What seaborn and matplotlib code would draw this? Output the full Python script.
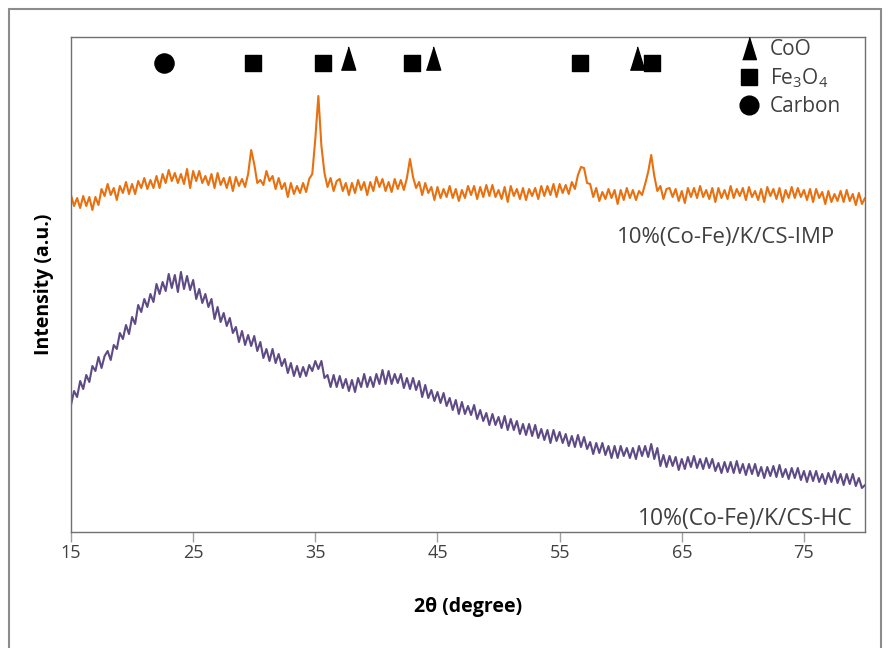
import numpy as np
import pandas as pd
import matplotlib
matplotlib.use("Agg")
import matplotlib.pyplot as plt
from matplotlib.lines import Line2D
import seaborn as sns

# ---------------- data (a.u.) ----------------
two_theta = np.arange(15.0, 80.001, 0.25)

imp_intensity = [
    349, 338, 346, 336,  348, 338, 347, 334,  347, 339, 355, 348,  360, 349, 356, 344,
    358, 351, 362, 350,  360, 350, 363, 356,  366, 355, 364, 356,  368, 356, 370, 361,
    374, 363, 371, 361,  370, 360, 375, 356,  373, 363, 373, 361,  368, 359, 370, 356,
    371, 359, 366, 356,  367, 353, 367, 358,  365, 357, 370, 394,  380, 361, 364, 359,
    373, 363, 368, 355,  366, 355, 361, 347,  361, 350, 358, 351,  361, 352, 365, 370,
    405, 448, 398, 371,  357, 366, 353, 363,  365, 353, 361, 349,  361, 351, 364, 354,
    362, 349, 362, 353,  367, 357, 365, 353,  362, 352, 365, 355,  364, 354, 366, 385,
    367, 356, 362, 349,  361, 351, 357, 344,  357, 346, 355, 347,  358, 346, 355, 343,
    354, 346, 358, 349,  358, 345, 357, 347,  359, 348, 359, 347,  354, 345, 357, 342,
    358, 348, 355, 345,  356, 344, 355, 348,  356, 345, 358, 348,  358, 349, 360, 347,
    360, 351, 359, 350,  362, 355, 369, 377,  376, 361, 360, 347,  356, 343, 352, 345,
    355, 346, 354, 340,  354, 344, 356, 346,  354, 344, 353, 349,  360, 372, 389, 368,
    353, 358, 345, 355,  356, 347, 355, 343,  353, 341, 356, 347,  356, 346, 358, 347,
    354, 345, 356, 342,  356, 346, 354, 345,  358, 346, 355, 348,  356, 344, 357, 347,
    353, 344, 355, 342,  357, 348, 355, 345,  356, 342, 354, 346,  357, 346, 356, 347,
    354, 344, 355, 342,  355, 346, 352, 340,  353, 342, 350, 343,  353, 342, 354, 343,
    350, 339, 351, 340,  346,
]

hc_intensity = [
    139, 153, 147, 163,  155, 169, 162, 178,  173, 187, 176, 188,  193, 184, 199, 195,
    211, 205, 219, 210,  227, 220, 239, 232,  245, 237, 250, 242,  260, 250, 262, 253,
    270, 256, 269, 252,  272, 255, 268, 254,  264, 245, 255, 241,  250, 237, 245, 225,
    237, 222, 231, 218,  226, 211, 217, 202,  213, 199, 209, 198,  208, 193, 202, 186,
    195, 183, 195, 181,  190, 178, 185, 171,  181, 168, 178, 167,  177, 168, 179, 173,
    183, 175, 183, 166,  169, 157, 169, 157,  168, 156, 165, 153,  164, 152, 166, 157,
    170, 157, 167, 157,  170, 160, 174, 160,  173, 160, 170, 161,  170, 156, 166, 155,
    166, 154, 163, 147,  159, 146, 154, 143,  152, 141, 151, 138,  146, 134, 144, 130,
    142, 130, 138, 129,  139, 125, 134, 123,  131, 119, 130, 119,  127, 116, 128, 114,
    125, 114, 123, 110,  120, 109, 120, 108,  119, 106, 115, 104,  114, 101, 114, 103,
    112, 101, 110, 98,   108, 97, 109, 97,   107, 95, 102, 90,    101, 91, 101, 89,
    98, 86, 98, 86,      98, 88, 96, 86,      96, 85, 98, 88,      98, 87, 100, 85,
    96, 78, 89, 77,      88, 78, 87, 74,      85, 75, 87, 77,      88, 76, 85, 75,
    86, 76, 85, 73,      81, 71, 82, 72,      82, 71, 83, 71,      80, 69, 80, 70,
    80, 68, 77, 66,      77, 68, 78, 67,      79, 67, 75, 65,      76, 66, 76, 64,
    73, 62, 73, 63,      73, 62, 70, 60,      71, 62, 73, 61,      70, 59, 70, 60,
    70, 58, 66, 56,      59,
]

coo_peaks = [37.7, 44.6, 61.3]
fe3o4_peaks = [29.9, 35.6, 42.95, 56.7, 62.6]
carbon_peaks = [22.6]
marker_level = 481
coo_level = 486

x_ticks = [15, 25, 35, 45, 55, 65, 75]
sample_labels = ["10%(Co-Fe)/K/CS-IMP", "10%(Co-Fe)/K/CS-HC"]

ORANGE = "#E8700F"
PURPLE = "#5E4A84"
TXT = "#404040"

# ---------------- plot ----------------
sns.set_style("white")
plt.rcParams["font.family"] = ["Open Sans", "DejaVu Sans"]
plt.rcParams["mathtext.fontset"] = "custom"
plt.rcParams["mathtext.rm"] = "Open Sans"
plt.rcParams["mathtext.it"] = "Open Sans"

df_imp = pd.DataFrame({"two_theta": two_theta, "intensity": imp_intensity})
df_hc = pd.DataFrame({"two_theta": two_theta, "intensity": hc_intensity})

AX_TOP, AX_BOT = 37, 532
fig = plt.figure(figsize=(8.9, 6.48), dpi=100)
ax = fig.add_axes([71 / 890, 1 - AX_BOT / 648, (865 - 71) / 890, (AX_BOT - AX_TOP) / 648])

sns.lineplot(data=df_imp, x="two_theta", y="intensity", ax=ax, color=ORANGE,
             lw=1.5, estimator=None, sort=False)
sns.lineplot(data=df_hc, x="two_theta", y="intensity", ax=ax, color=PURPLE,
             lw=1.5, estimator=None, sort=False)

tri = [(-0.62, -1.0), (0.62, -1.0), (0.0, 1.0)]
ax.scatter(coo_peaks, [coo_level] * len(coo_peaks), marker=tri, s=280, color="black", zorder=5)
ax.scatter(fe3o4_peaks, [marker_level] * len(fe3o4_peaks), marker="s", s=125, color="black", zorder=5)
ax.scatter(carbon_peaks, [marker_level] * len(carbon_peaks), marker="o", s=190, color="black", zorder=5)

ax.set_xlim(15, 80)
ax.set_ylim(544 - AX_BOT, 544 - AX_TOP)
ax.set_xticks(x_ticks)
ax.set_yticks([])
ax.tick_params(axis="x", direction="out", length=7, width=1, color="#A0A0A0",
               labelsize=13, labelcolor=TXT, pad=2, bottom=True)
for s in ax.spines.values():
    s.set_color("#707070")
    s.set_linewidth(1.0)

ax.set_xlabel("2θ (degree)", fontsize=14, fontweight="bold", color="black", labelpad=25)
ax.set_ylabel("Intensity (a.u.)", fontsize=14, fontweight="bold", color="black", labelpad=12)

ax.text(0.962, 1 - (238 - AX_TOP) / (AX_BOT - AX_TOP), sample_labels[0], transform=ax.transAxes,
        ha="right", va="center", fontsize=16, color=TXT)
ax.text(0.985, 1 - (519 - AX_TOP) / (AX_BOT - AX_TOP), sample_labels[1], transform=ax.transAxes,
        ha="right", va="center", fontsize=16.5, color=TXT)

handles = [
    Line2D([], [], ls="none", marker=tri, markersize=16, color="black"),
    Line2D([], [], ls="none", marker="s", markersize=11.5, color="black"),
    Line2D([], [], ls="none", marker="o", markersize=13.5, color="black"),
]
leg = ax.legend(handles, ["CoO", "Fe$_3$O$_4$", "Carbon"], loc="upper left",
                bbox_to_anchor=((730 - 71) / 794, 1.012), frameon=False,
                fontsize=15, handlelength=1.0, handletextpad=0.5,
                labelspacing=0.3, borderaxespad=0)
for t in leg.get_texts():
    t.set_color(TXT)

# outer frame of the figure
fr = dict(color="#8C8C8C", lw=1.5, transform=fig.transFigure)
fig.add_artist(Line2D([9 / 890, 9 / 890], [0, 1 - 9 / 648], **fr))
fig.add_artist(Line2D([9 / 890, 881 / 890], [1 - 9 / 648, 1 - 9 / 648], **fr))
fig.add_artist(Line2D([881 / 890, 881 / 890], [0, 1 - 9 / 648], **fr))

fig.savefig("out.png", dpi=100)
